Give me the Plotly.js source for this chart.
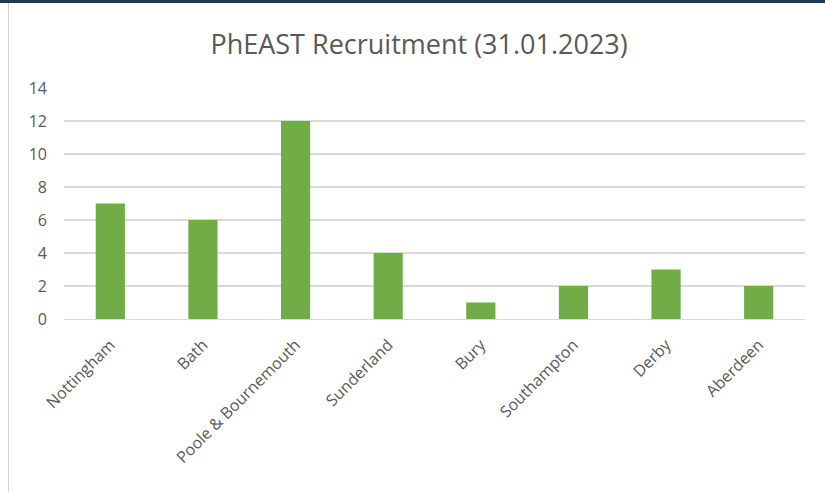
<!DOCTYPE html>
<html><head><meta charset="utf-8">
<script src="https://cdn.plot.ly/plotly-3.0.1.min.js"></script>
<style>
html,body{margin:0;padding:0;background:#fff;}
#wrap{position:relative;width:825px;height:492px;overflow:hidden;background:#fff;}
#topbar{position:absolute;left:0;top:0;width:825px;height:3px;background:#1f3864;}
#leftline{position:absolute;left:8px;top:3px;width:1px;height:489px;background:#d0d0d0;}
#chart{position:absolute;left:0;top:0;width:825px;height:492px;}
</style></head>
<body><div id="wrap"><div id="chart"></div><div id="topbar"></div><div id="leftline"></div></div>
<script>
const categories = ["Nottingham","Bath","Poole & Bournemouth","Sunderland","Bury","Southampton","Derby","Aberdeen"];
const recruits = [7,6,12,4,1,2,3,2];
const yTicks = [0,2,4,6,8,10,12,14];

const trace = {
  type: 'bar', x: categories, y: recruits,
  marker: {color: '#70ad47', line: {color: '#70ad47', width: 0}},
  hoverinfo: 'skip'
};
const layout = {
  width: 825, height: 492,
  margin: {l: 64, r: 20, t: 88, b: 173},
  paper_bgcolor: 'rgba(0,0,0,0)', plot_bgcolor: '#fff',
  title: {text: 'PhEAST Recruitment (31.01.2023)', x: 0.508, xanchor: 'center', y: 0.91, yanchor: 'middle',
          font: {family: 'Open Sans, sans-serif', size: 27, color: '#595959'}},
  bargap: 0.685,
  showlegend: false,
  xaxis: {type: 'category', tickangle: -45, showgrid: false, showline: true, linecolor: '#d9d9d9', linewidth: 1.3,
          ticks: '', ticklabelstandoff: 9,
          tickfont: {family: 'Open Sans, sans-serif', size: 16, color: '#595959'}},
  yaxis: {range: [0, 14], tickvals: yTicks, showgrid: true, gridcolor: '#d9d9d9', gridwidth: 1.3,
          zeroline: false, showline: false, ticks: '', ticklabelstandoff: 16,
          tickfont: {family: 'Open Sans, sans-serif', size: 16, color: '#595959'}}
};
Plotly.newPlot('chart', [trace], layout, {displayModeBar: false, staticPlot: true});
</script></body></html>
